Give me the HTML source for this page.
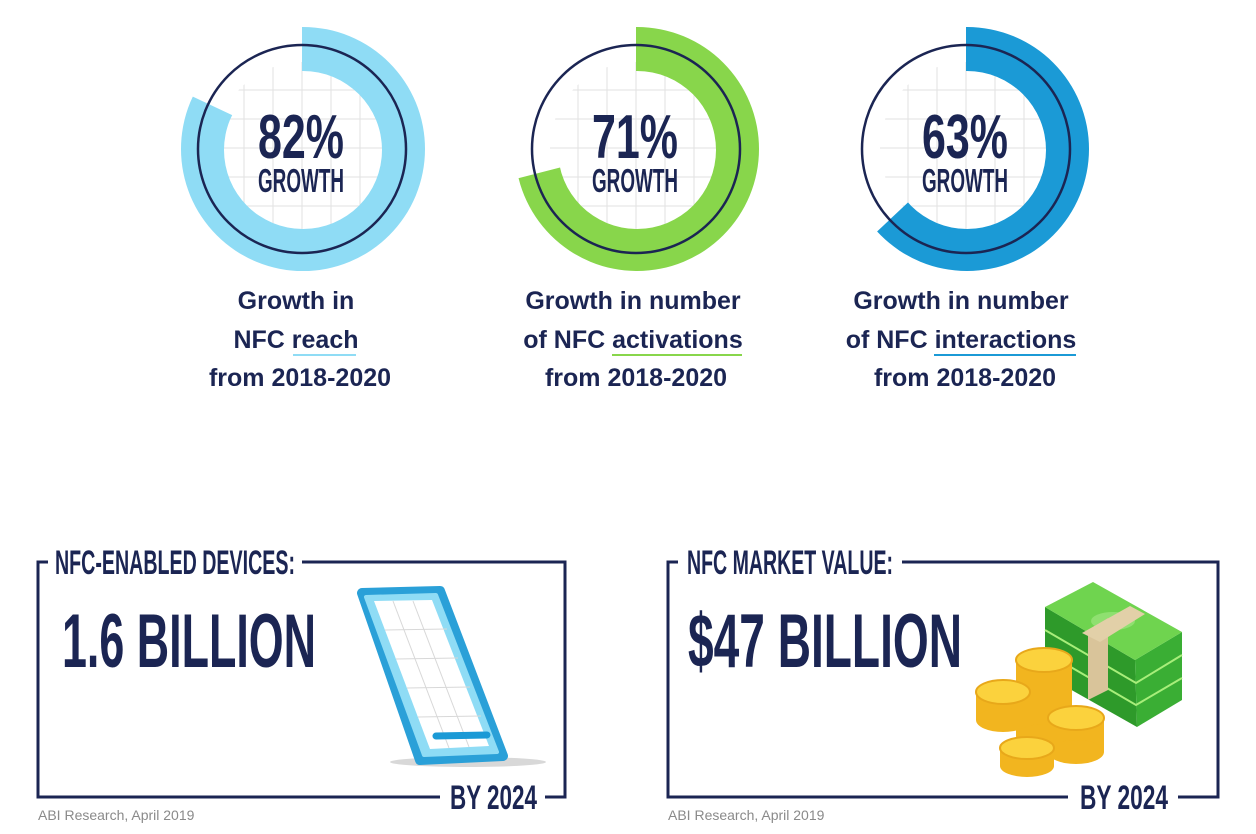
<!DOCTYPE html>
<html><head><meta charset="utf-8"><style>
html,body{margin:0;padding:0;background:#fff;}
svg{display:block;}
text{font-family:"Liberation Sans Narrow","Liberation Sans",sans-serif;font-weight:bold;fill:#1b2553;}
.lbl{font-family:"Liberation Sans",sans-serif;font-weight:bold;font-size:25px;fill:#1b2553;}
.src{font-family:"Liberation Sans",sans-serif;font-weight:normal;font-size:14px;fill:#8a8a8a;}
</style></head><body>
<svg id="chart" width="1256" height="834" viewBox="0 0 1256 834">
<defs id="defs"></defs>
<g id="donuts"></g>

<g>
<text class="lbl" x="296" y="309" text-anchor="middle">Growth in</text>
<text class="lbl" x="296" y="348" text-anchor="middle">NFC reach</text>
<line x1="293" y1="355" x2="356" y2="355" stroke="#8fdcf5" stroke-width="2"/>
<text class="lbl" x="300" y="386" text-anchor="middle">from 2018-2020</text>
</g>
<g>
<text class="lbl" x="633" y="309" text-anchor="middle">Growth in number</text>
<text class="lbl" x="633" y="348" text-anchor="middle">of NFC activations</text>
<line x1="612" y1="355" x2="742" y2="355" stroke="#88d64b" stroke-width="2"/>
<text class="lbl" x="636" y="386" text-anchor="middle">from 2018-2020</text>
</g>
<g>
<text class="lbl" x="961" y="309" text-anchor="middle">Growth in number</text>
<text class="lbl" x="961" y="348" text-anchor="middle">of NFC interactions</text>
<line x1="934" y1="355" x2="1076" y2="355" stroke="#1b9ad6" stroke-width="2"/>
<text class="lbl" x="965" y="386" text-anchor="middle">from 2018-2020</text>
</g>

<!-- Box 1 -->
<g stroke="#1b2553" stroke-width="3" fill="none">
<polyline points="48,562 38,562 38,797 440,797"/>
<polyline points="302,562 565,562 565,797 545,797"/>
</g>
<text x="55" y="574" font-size="34" textLength="240" lengthAdjust="spacingAndGlyphs">NFC-ENABLED DEVICES:</text>
<text x="62" y="667" font-size="76" textLength="254" lengthAdjust="spacingAndGlyphs">1.6 BILLION</text>
<text x="450" y="809" font-size="34" textLength="87" lengthAdjust="spacingAndGlyphs">BY 2024</text>
<text class="src" x="38" y="820">ABI Research, April 2019</text>

<g>
<ellipse cx="468" cy="762" rx="78" ry="5" fill="#d8d8d8"/>
<polygon points="362,593 440,591 503,756 420,760" fill="#2aa0d8" stroke="#2aa0d8" stroke-width="10" stroke-linejoin="round"/>
<polygon points="366,597 436,595 497,752 424,755" fill="#8fdcf5" stroke="#8fdcf5" stroke-width="4" stroke-linejoin="round"/>
<polygon points="374,601 432,600 489,746 430,749" fill="#fff"/>
<g stroke="#d8d8d8" stroke-width="1">
<line x1="385" y1="630" x2="447" y2="629"/><line x1="396" y1="659" x2="458" y2="658"/><line x1="407" y1="688" x2="470" y2="687"/><line x1="418" y1="717" x2="481" y2="716"/>
<line x1="393" y1="601" x2="449" y2="748"/><line x1="413" y1="601" x2="469" y2="747"/>
</g>
<line x1="436" y1="736" x2="487" y2="735" stroke="#1b9ad6" stroke-width="7" stroke-linecap="round"/>
</g>

<!-- Box 2 -->
<g stroke="#1b2553" stroke-width="3" fill="none">
<polyline points="678,562 668,562 668,797 1068,797"/>
<polyline points="902,562 1218,562 1218,797 1178,797"/>
</g>
<text x="687" y="574" font-size="34" textLength="206" lengthAdjust="spacingAndGlyphs">NFC MARKET VALUE:</text>
<text x="688" y="667" font-size="76" textLength="274" lengthAdjust="spacingAndGlyphs">$47 BILLION</text>
<text x="1080" y="809" font-size="34" textLength="88" lengthAdjust="spacingAndGlyphs">BY 2024</text>
<text class="src" x="668" y="820">ABI Research, April 2019</text>

<g>
<polygon points="1045,607 1135,660 1137,727 1045,675" fill="#2e9a2a"/>
<polygon points="1135,660 1182,632 1182,700 1137,727" fill="#3aae34"/>
<g stroke="#a8ee7a" stroke-width="2">
<polyline points="1045,630 1136,683 1182,655" fill="none"/>
<polyline points="1045,652 1136,705 1182,678" fill="none"/>
</g>
<polygon points="1045,607 1093,582 1182,632 1135,660" fill="#6fd44f"/>
<ellipse cx="1113" cy="621" rx="22" ry="9" fill="#8fe070"/>
<polygon points="1088,630 1108,618 1108,690 1088,700" fill="#d9c49a"/>
<polygon points="1082,633 1130,606 1145,614 1100,642" fill="#e2d0a8"/>
<g fill="#f2b51f">
<rect x="976" y="692" width="54" height="28"/><ellipse cx="1003" cy="720" rx="27" ry="12"/>
<rect x="1016" y="660" width="56" height="76"/><ellipse cx="1044" cy="736" rx="28" ry="12"/>
<rect x="1048" y="718" width="56" height="34"/><ellipse cx="1076" cy="752" rx="28" ry="12"/>
<rect x="1000" y="748" width="54" height="18"/><ellipse cx="1027" cy="766" rx="27" ry="11"/>
</g>
<g fill="#fbd23d" stroke="#e8a81a" stroke-width="2">
<ellipse cx="1003" cy="692" rx="27" ry="12"/>
<ellipse cx="1044" cy="660" rx="28" ry="12"/>
<ellipse cx="1076" cy="718" rx="28" ry="12"/>
<ellipse cx="1027" cy="748" rx="27" ry="11"/>
</g>
</g>
</svg>
<script>
const labels = ["82%", "71%", "63%"];
const growthValues = [82, 71, 63];
const ringColors = ["#8fdcf5", "#88d64b", "#1b9ad6"];
const centersX = [302, 636, 966];
const NS = "http://www.w3.org/2000/svg";
const cy = 148;
const defs = document.getElementById('defs');
const g = document.getElementById('donuts');
function mk(t, a){const e=document.createElementNS(NS,t);for(const k in a)e.setAttribute(k,a[k]);return e;}
function circ(x,y,r){return `M${x-r},${y}a${r},${r} 0 1,0 ${2*r},0a${r},${r} 0 1,0 ${-2*r},0Z`;}
growthValues.forEach((v,i)=>{
  const cx = centersX[i];
  const frac = v/100;
  let pts = [[cx,cy]];
  const n = Math.ceil(frac*360/3);
  for(let k=0;k<=n;k++){const a = Math.min(k*3, frac*360)*Math.PI/180; pts.push([cx+220*Math.sin(a), cy-220*Math.cos(a)]);}
  const cp = mk('clipPath',{id:'wedge'+i});
  cp.appendChild(mk('polygon',{points:pts.map(p=>p.join(',')).join(' ')}));
  defs.appendChild(cp);
  const cc = mk('clipPath',{id:'inner'+i});
  cc.appendChild(mk('circle',{cx:cx,cy:cy,r:86}));
  defs.appendChild(cc);
  const grp = mk('g',{});
  
  
  const grid = mk('g',{'clip-path':`url(#inner${i})`,stroke:'#e2e2e2','stroke-width':1});
  for(let k=-3;k<=3;k++){
    grid.appendChild(mk('line',{x1:cx+k*29,y1:cy-100,x2:cx+k*29,y2:cy+100}));
    grid.appendChild(mk('line',{x1:cx-100,y1:cy+k*29,x2:cx+100,y2:cy+k*29}));
  }
  grp.appendChild(grid);
  const ring = mk('path',{d:circ(cx+1,cy+1,122)+circ(cx+1,cy+2,79),'fill-rule':'evenodd',fill:ringColors[i],'clip-path':`url(#wedge${i})`});
  
  
  grp.appendChild(ring);
  grp.appendChild(mk('circle',{cx:cx,cy:cy+1,r:104,fill:'none',stroke:'#1b2553','stroke-width':2.5}));
  const t = mk('text',{x:cx-44,y:158,'font-size':62,textLength:86,lengthAdjust:'spacingAndGlyphs'});
  t.textContent = labels[i];
  
  
  grp.appendChild(t);
  const t2 = mk('text',{x:cx-44,y:192,'font-size':33,textLength:86,lengthAdjust:'spacingAndGlyphs'});
  t2.textContent = 'GROWTH';
  
  
  grp.appendChild(t2);
  g.appendChild(grp);
});
</script>
</body></html>
